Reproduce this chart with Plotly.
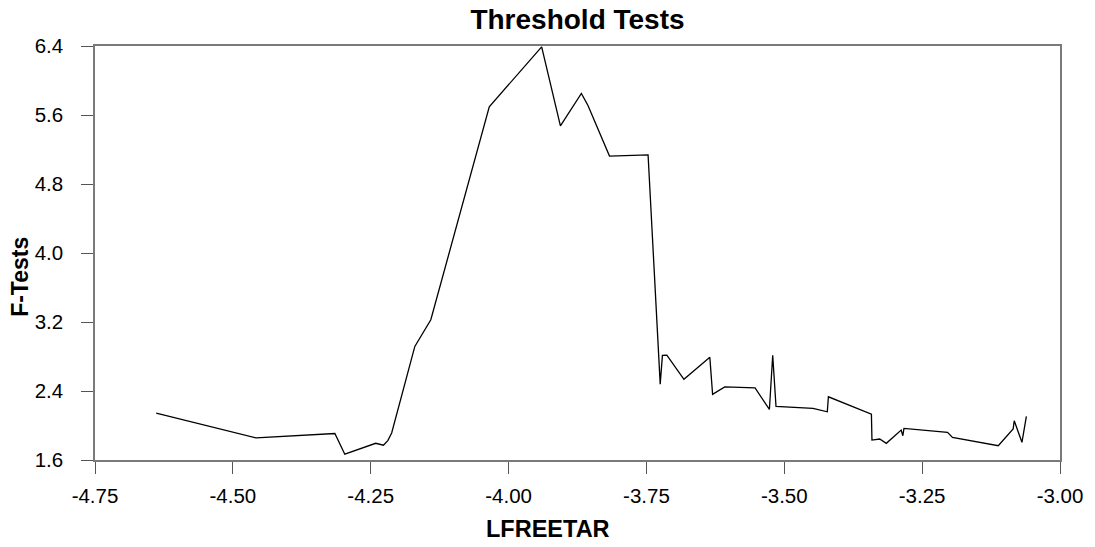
import plotly.graph_objects as go

# Data
lfreetar = [-4.639, -4.458, -4.315, -4.297, -4.241, -4.227, -4.219, -4.212, -4.170, -4.141,
            -4.035, -3.940, -3.906, -3.868, -3.856, -3.817, -3.747, -3.725, -3.721, -3.713,
            -3.682, -3.635, -3.630, -3.608, -3.553, -3.527, -3.521, -3.515, -3.448, -3.422,
            -3.420, -3.342, -3.341, -3.327, -3.315, -3.288, -3.285, -3.283, -3.204, -3.195,
            -3.112, -3.085, -3.083, -3.069, -3.061]
f_tests = [2.143, 1.857, 1.907, 1.667, 1.794, 1.771, 1.825, 1.914, 2.917, 3.226,
           5.695, 6.390, 5.475, 5.850, 5.710, 5.124, 5.138, 2.480, 2.813, 2.815,
           2.535, 2.790, 2.362, 2.448, 2.436, 2.186, 2.815, 2.221, 2.198, 2.159,
           2.333, 2.132, 1.831, 1.843, 1.793, 1.947, 1.881, 1.966, 1.920, 1.862,
           1.766, 1.959, 2.055, 1.805, 2.106]

x_ticks = [-4.75, -4.50, -4.25, -4.00, -3.75, -3.50, -3.25, -3.00]
x_tick_labels = ["-4.75", "-4.50", "-4.25", "-4.00", "-3.75", "-3.50", "-3.25", "-3.00"]
y_ticks = [1.6, 2.4, 3.2, 4.0, 4.8, 5.6, 6.4]
y_tick_labels = ["1.6", "2.4", "3.2", "4.0", "4.8", "5.6", "6.4"]

title_text = "Threshold Tests"
x_title = "LFREETAR"
y_title = "F-Tests"

FONT = "Liberation Sans, Arial, sans-serif"

fig = go.Figure()
fig.add_trace(go.Scatter(x=lfreetar, y=f_tests, mode="lines",
                         line=dict(color="black", width=1.3), showlegend=False))

W, H = 1095, 547
ml, mr, mt, mb = 95, 33, 46, 87
plot_w = W - ml - mr
plot_h = H - mt - mb

axis_common = dict(showgrid=False, zeroline=False, showline=True, linecolor="#7a7a7a",
                   linewidth=1.5, mirror=True, ticks="outside", ticklen=12,
                   tickcolor="#555555", tickwidth=1,
                   tickfont=dict(family=FONT, size=20.5, color="black"))

fig.update_layout(
    width=W, height=H,
    margin=dict(l=ml, r=mr, t=mt, b=mb),
    paper_bgcolor="white", plot_bgcolor="white",
    title=dict(text="<b>%s</b>" % title_text, x=0.5, xref="paper", xanchor="center",
               y=1 - 19 / H, yref="container", yanchor="middle",
               font=dict(family=FONT, size=28, color="black")),
    xaxis=dict(range=[-4.75, -3.0], tickmode="array", tickvals=x_ticks,
               ticktext=x_tick_labels, ticklabelstandoff=5, **axis_common),
    yaxis=dict(range=[1.6, 6.4], tickmode="array", tickvals=y_ticks,
               ticktext=y_tick_labels, ticklabelstandoff=14, **axis_common),
)

fig.add_annotation(text="<b>%s</b>" % x_title, xref="paper", yref="paper",
                   x=(549 - ml) / plot_w, y=-(528.7 - (H - mb)) / plot_h,
                   xanchor="center", yanchor="middle", showarrow=False,
                   font=dict(family=FONT, size=23.5, color="black"))
fig.add_annotation(text="<b>%s</b>" % y_title, xref="paper", yref="paper",
                   x=-(ml - 20) / plot_w, y=((H - mb) - 276.7) / plot_h,
                   xanchor="center", yanchor="middle", textangle=-90, showarrow=False,
                   font=dict(family=FONT, size=23, color="black"))

fig.write_html("out.html")
